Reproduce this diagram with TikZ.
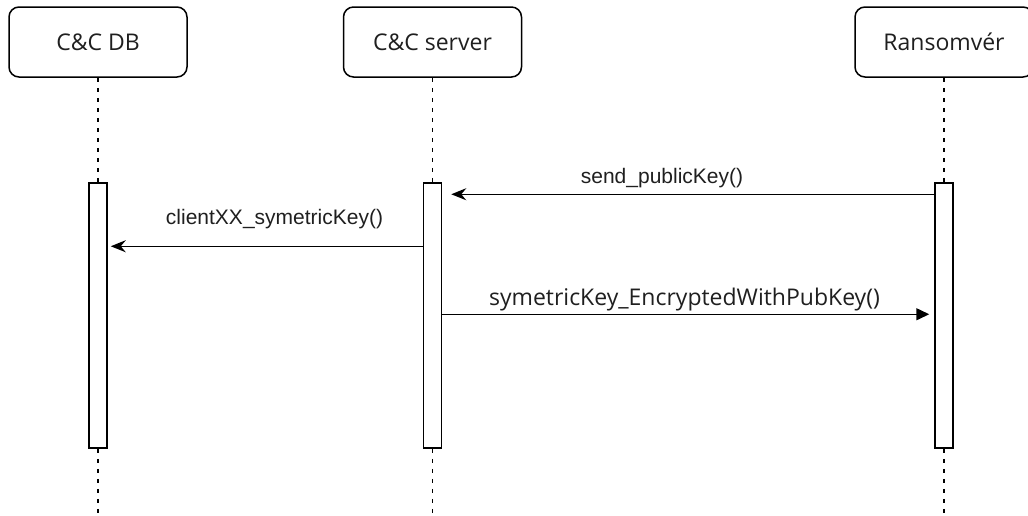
\documentclass[tikz,border=0pt]{standalone}
\usepackage{fontspec}
\setmainfont{Liberation Sans}
\newfontfamily\segfont{Open Sans}
\usetikzlibrary{arrows.meta,calc}
\begin{document}
\begin{tikzpicture}[x=1pt,y=-1pt,
  head/.style={draw, rounded corners=10pt, line width=1.5pt, minimum width=178pt, minimum height=70pt,
    font=\segfont\fontsize{23}{27}\selectfont, text=black!88, inner sep=0pt},
  actbar/.style={draw, fill=white, line width=1.5pt, minimum width=18pt, minimum height=265pt, inner sep=0pt},
  life/.style={line width=1.5pt, dash pattern=on 4.5pt off 5.5pt},
  msgopen/.style={line width=1.5pt, -{Stealth[length=15pt,width=12pt,inset=5pt]}},
  msgblock/.style={line width=1.5pt, -{Triangle[length=13pt,width=12pt]}},
  lbl/.style={font=\fontsize{21}{25}\selectfont, text=black!88, inner sep=0pt},
  lblseg/.style={font=\segfont\fontsize{23}{27}\selectfont, text=black!88, inner sep=0pt}]
\useasboundingbox (0,0) rectangle (1028,515);
% lifeline heads
\node[head] (hdb) at (98,42) {C\&C DB};
\node[head] (hsv) at (432.5,42) {C\&C server};
\node[head] (hrs) at (944,42) {Ransomvér};
% lifeline ends
\coordinate (edb) at (98,515);
\coordinate (esv) at (432.5,515);
\coordinate (ers) at (944,515);
% activation bars
\node[actbar] (adb) at (98,315.5) {};
\node[actbar] (asv) at (432.5,315.5) {};
\node[actbar] (ars) at (944,315.5) {};
% lifelines
\draw[life] (hdb.south) -- (adb.north);
\draw[life] (adb.south) -- (edb);
\draw[life] (hsv.south) -- (asv.north);
\draw[life] (asv.south) -- (esv);
\draw[life] (hrs.south) -- (ars.north);
\draw[life] (ars.south) -- (ers);
% messages
\draw[msgopen] ($(ars.north west)+(0,12)$) -- ($(asv.north east)+(9,12)$);
\draw[msgopen] ($(asv.north west)+(0,64)$) -- ($(adb.north east)+(3,64)$);
\draw[msgblock] ($(asv.north east)+(0,132)$) -- ($(ars.north west)+(-5,132)$);
% labels
\node[lbl] (l1) at (662,178) {send\_publicKey()};
\node[lbl] (l2) at (274.5,219) {clientXX\_symetricKey()};
\node[lblseg] (l3) at (684.5,300) {symetricKey\_EncryptedWithPubKey()};
\end{tikzpicture}
\end{document}
